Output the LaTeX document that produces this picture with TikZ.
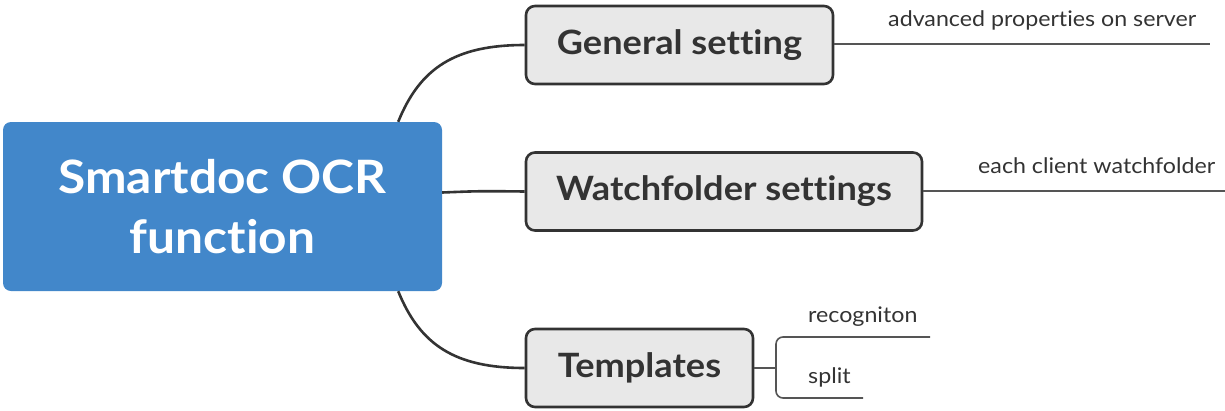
\documentclass[tikz,border=0pt]{standalone}
\usepackage{fontspec}
\setmainfont{Lato}[RawFeature={-liga;-clig;-dlig;-calt}]
\newfontfamily\widefont{Lato}[FakeStretch=1.08,RawFeature={-liga;-clig;-dlig;-calt}]
\definecolor{mainblue}{RGB}{66,135,202}
\definecolor{boxgray}{RGB}{232,232,232}
\definecolor{darkline}{RGB}{51,51,51}
\definecolor{thinline}{RGB}{85,85,85}
\definecolor{txt}{RGB}{51,51,51}
\begin{document}
\begin{tikzpicture}[x=1pt,y=-1pt,
  rootbox/.style={draw=none,fill=mainblue,rounded corners=8pt,minimum width=439pt,minimum height=169pt,text=white,align=center,inner sep=0pt,font=\widefont\fontsize{46}{60}\selectfont\bfseries},
  topicbox/.style={draw=darkline,line width=2.6pt,fill=boxgray,rounded corners=9pt,minimum height=78pt,inner sep=0pt,text=txt,font=\widefont\fontsize{33.5}{36}\selectfont\bfseries},
  conn/.style={draw=darkline,line width=2.6pt},
  sub/.style={draw=thinline,line width=1.6pt},
  subtext/.style={text=txt,inner sep=0pt,anchor=base west,font=\widefont\fontsize{21.5}{24}\selectfont}]
\useasboundingbox (0,0) rectangle (1225,410);
\node[rootbox] (root) at (222.5,206.5) {Smartdoc OCR\\function};
\node[topicbox,minimum width=307pt] (gen) at (679.5,45) {General setting};
\node[topicbox,minimum width=396pt] (watch) at (724,191.5) {Watchfolder settings};
\node[topicbox,minimum width=227pt] (tmpl) at (639.5,368) {Templates};
\coordinate (rtop) at ([xshift=-44pt]root.north east);
\coordinate (rmid) at ([yshift=14pt]root.east);
\coordinate (rbot) at ([xshift=-44pt]root.south east);
\draw[conn] (rtop) .. controls (420,68) and (455,45) .. (gen.west);
\draw[conn] (rmid) .. controls (480,191) .. (watch.west);
\draw[conn] (rbot) .. controls (420,345) and (455,368) .. (tmpl.west);
% sub topics
\coordinate (genend) at (1210,44);
\draw[sub] (gen.east |- genend) -- (genend);
\node[subtext] (advtext) at (888,26) {advanced properties on server};
\coordinate (watchend) at (1225,191);
\draw[sub] (watch.east |- watchend) -- (watchend);
\node[subtext] (eachtext) at (978,173) {each client watchfolder};
\coordinate (brk) at (776,368);
\coordinate (recend) at (930,337);
\coordinate (splend) at (863,398);
\draw[sub] (tmpl.east) -- (brk);
\draw[sub,rounded corners=7pt] (recend) -- (776,337) -- (776,398) -- (splend);
\node[subtext] (rectext) at (808,322) {recogniton};
\node[subtext] (spltext) at (808,383) {split};
\end{tikzpicture}
\end{document}
